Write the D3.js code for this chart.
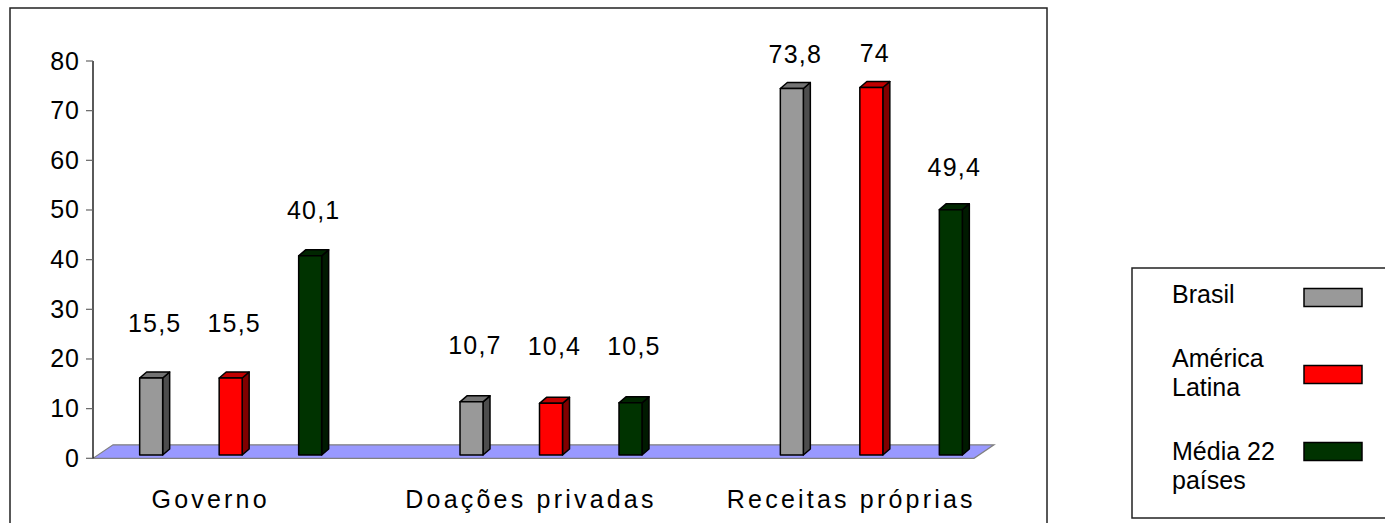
<!DOCTYPE html>
<html>
<head>
<meta charset="utf-8">
<script src="https://cdn.jsdelivr.net/npm/d3@7"></script>
<style>
    html, body { margin: 0; padding: 0; background: #fff; }
    svg text { font-family: "Liberation Sans", Arial, sans-serif; fill: #000; }
</style>
</head>
<body>
<div id="chart"></div>
<script>
// --- Data ---
const categories = ["Governo", "Doações privadas", "Receitas próprias"];
const seriesNames = ["Brasil", "América Latina", "Média 22 países"];
const brasil = [15.5, 10.7, 73.8];
const americaLatina = [15.5, 10.4, 74];
const media22 = [40.1, 10.5, 49.4];
const yTicks = [0, 10, 20, 30, 40, 50, 60, 70, 80];
const legendLines = [["Brasil"], ["América", "Latina"], ["Média 22", "países"]];

const seriesValues = [brasil, americaLatina, media22];
const colors = {
    front: ["#999999", "#ff0000", "#003300"],
    side: ["#4d4d4d", "#800000", "#001a00"],
    top: ["#737373", "#c00000", "#002600"]
};

// --- Layout ---
const width = 1385, height = 523;
const axisX = 93, floorRight = 974;
const floorDx = 20, floorDy = -13.5;
const barW = 23, barDx = 7, barDy = -6, barLift = 3.3;
const fontSize = "25px";

const svg = d3.select("#chart").append("svg")
    .attr("width", width)
    .attr("height", height);

// outer chart frame
svg.append("rect")
    .attr("x", 10).attr("y", 8).attr("width", 1037).attr("height", 530)
    .attr("fill", "none").attr("stroke", "#222").attr("stroke-width", 1.5);

const y = d3.scaleLinear().domain([0, 80]).range([458.3, 61]);
// labels in the 3D view sit on their own (perspective) scale
const yLabel = d3.scaleLinear().domain([0, 80]).range([403.4, 34.6]);

const x = d3.scaleBand().domain(categories).range([70.5, 1031.5]);
const xs = d3.scalePoint().domain(seriesNames).range([-79.5, 79.5]);

// --- Floor ---
const y0 = y(0);
svg.append("polygon")
    .attr("points", [
        [axisX, y0], [floorRight, y0],
        [floorRight + floorDx, y0 + floorDy], [axisX + floorDx, y0 + floorDy]
    ].map(p => p.join(",")).join(" "))
    .attr("fill", "#9999ff")
    .attr("stroke", "#808080")
    .attr("stroke-width", 1.2);

// --- Y axis ---
const yAxis = svg.append("g");
yAxis.append("line")
    .attr("x1", axisX).attr("x2", axisX)
    .attr("y1", y(80)).attr("y2", y0)
    .attr("stroke", "#000").attr("stroke-width", 1.3);

yAxis.selectAll(".tick")
    .data(yTicks)
    .enter()
    .append("line")
    .attr("x1", axisX - 7).attr("x2", axisX)
    .attr("y1", d => y(d)).attr("y2", d => y(d))
    .attr("stroke", "#666").attr("stroke-width", 1.2);

yAxis.selectAll(".ticklabel")
    .data(yTicks)
    .enter()
    .append("text")
    .attr("x", 80)
    .attr("y", d => y(d) + 8.5)
    .attr("text-anchor", "end")
    .style("font-size", fontSize)
    .style("letter-spacing", "1px")
    .text(d => d);

// --- Bars ---
const bars = [];
categories.forEach((c, ci) => {
    seriesNames.forEach((s, si) => {
        bars.push({ cat: c, series: s, si, value: seriesValues[si][ci] });
    });
});

const barG = svg.append("g");
bars.forEach(b => {
    const cx = x(b.cat) + x.bandwidth() / 2 + xs(b.series);
    const left = cx - barW / 2, right = cx + barW / 2;
    const bottom = y0 - barLift;
    const top = y(b.value) - barLift;
    const g = barG.append("g")
        .attr("stroke", "#000")
        .attr("stroke-width", 1.5)
        .attr("stroke-linejoin", "round");

    // side face
    g.append("polygon")
        .attr("points", [[right, bottom], [right + barDx, bottom + barDy], [right + barDx, top + barDy], [right, top]].map(p => p.join(",")).join(" "))
        .attr("fill", colors.side[b.si]);
    // top face
    g.append("polygon")
        .attr("points", [[left, top], [right, top], [right + barDx, top + barDy], [left + barDx, top + barDy]].map(p => p.join(",")).join(" "))
        .attr("fill", colors.top[b.si]);
    // front face
    g.append("rect")
        .attr("x", left).attr("y", top)
        .attr("width", barW).attr("height", bottom - top)
        .attr("fill", colors.front[b.si]);

    svg.append("text")
        .attr("x", cx + barDx / 2)
        .attr("y", yLabel(b.value))
        .attr("text-anchor", "middle")
        .style("font-size", fontSize)
        .style("letter-spacing", "1.2px")
        .text(String(b.value).replace(".", ","));
});

// --- Category labels ---
svg.selectAll(".cat")
    .data(categories)
    .enter()
    .append("text")
    .attr("x", d => x(d) + x.bandwidth() / 2 - 20)
    .attr("y", 508)
    .attr("text-anchor", "middle")
    .style("font-size", fontSize)
    .style("letter-spacing", "3.2px")
    .text(d => d);

// --- Legend ---
const legend = svg.append("g");
legend.append("rect")
    .attr("x", 1132).attr("y", 268).attr("width", 270).attr("height", 250)
    .attr("fill", "#fff").attr("stroke", "#222").attr("stroke-width", 1.5);

const lineH = 29, entryGap = 35;
let baseline = 303;
legendLines.forEach(lines => {
    const t = legend.append("text")
        .attr("x", 1172)
        .attr("y", baseline)
        .style("font-size", fontSize);
    lines.forEach((ln, li) => {
        t.append("tspan").attr("x", 1172).attr("y", baseline + li * lineH).text(ln);
    });
    baseline += lines.length * lineH + entryGap;
});

const swatchY = d3.scalePoint().domain(seriesNames).range([297.5, 451.5]);
legend.selectAll(".swatch")
    .data(seriesNames)
    .enter()
    .append("rect")
    .attr("x", 1304).attr("y", d => swatchY(d) - 9)
    .attr("width", 58).attr("height", 18)
    .attr("fill", (d, i) => colors.front[i])
    .attr("stroke", "#000").attr("stroke-width", 1.5);
</script>
</body>
</html>
